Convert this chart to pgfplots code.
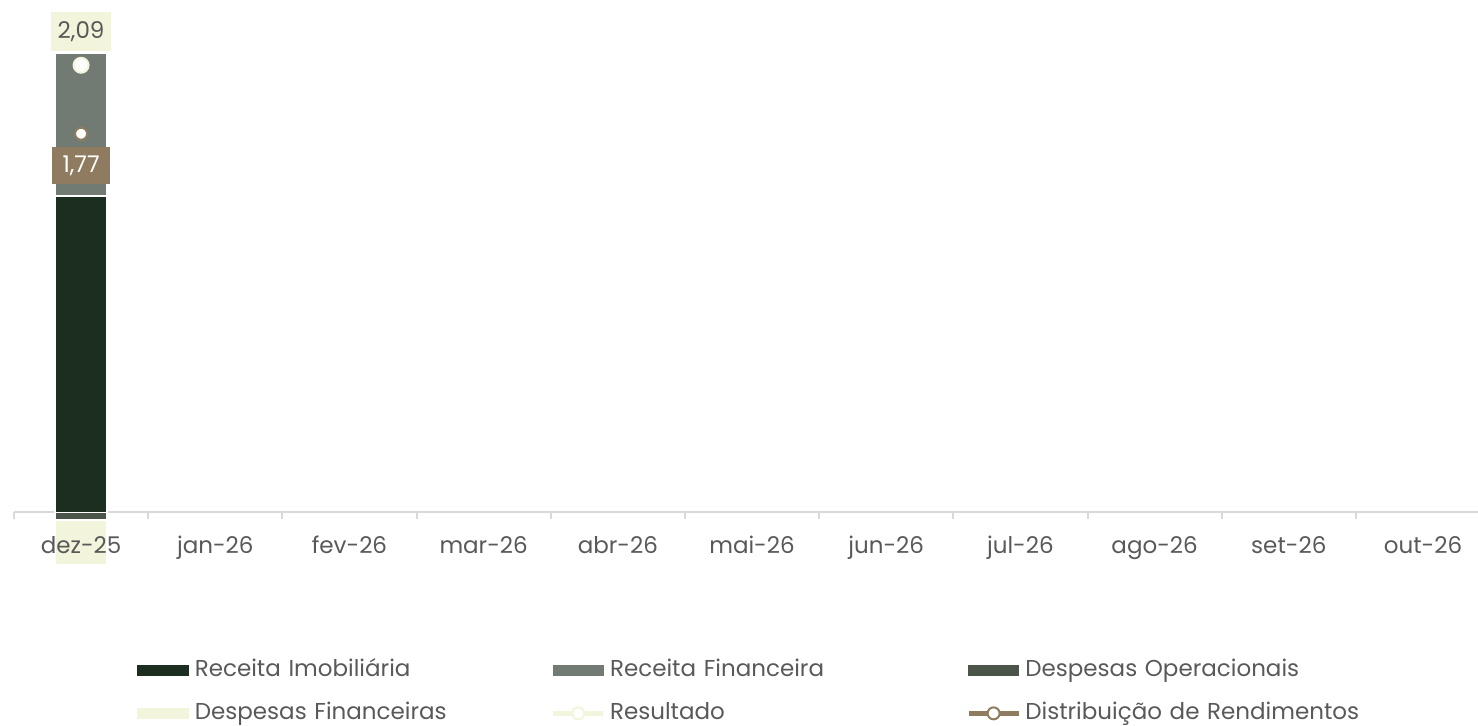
\documentclass[border=0pt]{standalone}
\usepackage{pgfplots}
\pgfplotsset{compat=1.18}
\usepackage{fontspec}
\setmainfont{Poppins}
\definecolor{verdeesc}{HTML}{1C2E20}
\definecolor{cinzaverde}{HTML}{717B74}
\definecolor{despop}{HTML}{4B5449}
\definecolor{creme}{HTML}{F3F4DC}
\definecolor{marrom}{HTML}{8E7B60}
\definecolor{textocinza}{HTML}{595959}
\definecolor{eixo}{HTML}{D9D9D9}

\pgfplotsset{
  /pgf/number format/assume math mode=true,
  base/.style={scale only axis,width=732pt,height=256.25pt,
    xmin=-0.5,xmax=10.41,ymin=0,ymax=2.395,clip=false},
  barra/.style={fill=#1,draw=white,line width=0.75pt,
    legend image code/.code={\fill[#1] (0pt,-2.5pt) rectangle (25pt,2.5pt); \path (28pt,0pt);}},
  linha/.style 2 args={only marks,mark=*,mark size=#2,
    mark options={fill=white,draw=#1,line width=1pt},
    legend image code/.code={\draw[#1,line width=2.5pt] (0pt,0pt) -- (25pt,0pt);
      \draw[#1,line width=1pt,fill=white] (12.5pt,0pt) circle (3pt); \path (28pt,0pt);}},
  rotulo/.style 2 args={nodes near coords={\pgfmathprintnumber[fixed,fixed zerofill,precision=2,use comma]{\pgfplotspointmeta}},
    nodes near coords align=center,
    every node near coord/.append style={anchor=center,yshift=#2,fill=#1,
      inner sep=1pt,font=\fontsize{11.5}{13}\selectfont}},
}

\begin{document}
\begin{tikzpicture}
% despesas (negativas) num eixo proprio, desenhado por baixo
\begin{axis}[base,hide axis,ybar stacked,bar width=26pt]
\addplot[barra=despop] coordinates {(0,-0.035)};
\addplot[barra=creme] coordinates {(0,-0.21)};
\end{axis}

% receitas e eixo x
\begin{axis}[base,name=ax,ybar stacked,bar width=26pt,
  axis x line*=bottom,axis y line=none,
  axis line style={draw=eixo,line width=1pt},
  xtick={0,...,10},
  xticklabels={dez-25,jan-26,fev-26,mar-26,abr-26,mai-26,jun-26,jul-26,ago-26,set-26,out-26},
  major tick length=0pt,minor xtick={-0.5,0.5,...,9.5},minor tick length=3.5pt,tick align=outside,
  tick style={draw=eixo,line width=1pt},
  xticklabel style={anchor=base,yshift=-20.75pt,text=textocinza,font=\fontsize{11.5}{13}\selectfont}]
\addplot[barra=verdeesc] coordinates {(0,1.479)};
\addplot[barra=cinzaverde] coordinates {(0,0.668)};
\end{axis}

% resultado, distribuicao e legenda
\begin{axis}[base,hide axis,
  legend style={draw=none,fill=none,at={(0.0799,-0.2780)},anchor=north west,legend columns=3,
    column sep=0pt,row sep=10.5pt,font=\fontsize{11.5}{13}\selectfont,text=textocinza,
    nodes={inner sep=0pt,text height=8.5pt,text depth=2.5pt},
    /tikz/every even column/.append style={text width=178pt}},
  legend cell align=left]
\addlegendimage{barra=verdeesc}
\addlegendimage{barra=cinzaverde}
\addlegendimage{barra=despop}
\addlegendimage{barra=creme}
\addplot[linha={creme}{3.75pt},rotulo={creme}{17pt},
  every node near coord/.append style={text=textocinza,minimum width=30pt,minimum height=19.5pt}]
  coordinates {(0,2.09)};
\addplot[linha={marrom}{3pt},rotulo={marrom}{-16pt},
  every node near coord/.append style={text=white,minimum width=29pt,minimum height=18.5pt}]
  coordinates {(0,1.77)};
\legend{Receita Imobiliária,Receita Financeira,Despesas Operacionais,Despesas Financeiras,Resultado,Distribuição de Rendimentos}
\end{axis}
\pgfresetboundingbox
\path[use as bounding box] (ax.south west) ++(-7pt,-106.75pt) rectangle ++(739pt,363pt);
\end{tikzpicture}
\end{document}
